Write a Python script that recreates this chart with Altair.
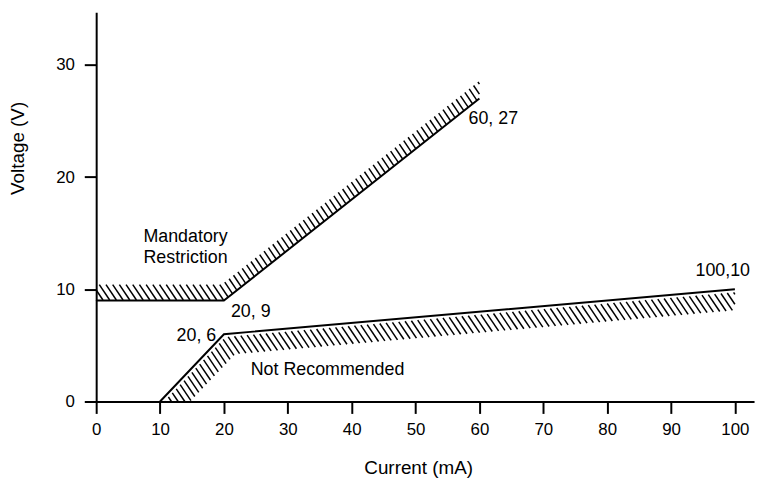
import numpy as np
import pandas as pd
import altair as alt

# ---------------- data ----------------
X_DOMAIN = [0, 103]
Y_DOMAIN = [0, 34.7]
x_ticks = [0, 10, 20, 30, 40, 50, 60, 70, 80, 90, 100]
y_ticks = [0, 10, 20, 30]

upper_x = [0, 20, 60]
upper_y = [9, 9, 27]
lower_x = [10, 20, 100]
lower_y = [0, 6, 10]

point_text = ["20, 9", "20, 6", "60, 27", "100,10"]
point_x = [21.1, 18.8, 58.3, 98.1]
point_y = [8.0, 5.8, 25.2, 11.65]
point_align = ["left", "right", "left", "center"]

note_text = ["Mandatory", "Restriction", "Not Recommended"]
note_x = [7.4, 7.4, 24.2]
note_y = [14.7, 12.75, 2.8]

# ---------------- layout / style ----------------
W, H = 664, 393
FONT = "Liberation Sans, Arial, sans-serif"
sx = W / (X_DOMAIN[1] - X_DOMAIN[0])
sy = H / (Y_DOMAIN[1] - Y_DOMAIN[0])


def to_px(x, y):
    return np.array([(x - X_DOMAIN[0]) * sx, H - (y - Y_DOMAIN[0]) * sy], dtype=float)


def to_data(p):
    return p[0] / sx + X_DOMAIN[0], (H - p[1]) / sy + Y_DOMAIN[0]


def intersect(p, d, q, e):
    A = np.array([[d[0], -e[0]], [d[1], -e[1]]])
    t, _ = np.linalg.solve(A, q - p)
    return p + t * d


def offset_chain(pts, widths, side, start_cut, end_cut):
    lines = []
    for i in range(len(pts) - 1):
        a, b = pts[i], pts[i + 1]
        d = (b - a) / np.linalg.norm(b - a)
        nrm = np.array([-d[1], d[0]]) * side
        lines.append((a + nrm * widths[i], d))
    verts = [intersect(*lines[0], *start_cut)]
    for i in range(1, len(lines)):
        verts.append(intersect(*lines[i - 1], *lines[i]))
    verts.append(intersect(*lines[-1], *end_cut))
    return verts


def hatch(poly, angle_deg=56, step=5.6):
    ang = np.deg2rad(angle_deg)
    d = np.array([np.cos(ang), np.sin(ang)])
    n = np.array([-d[1], d[0]])
    cs = [n @ v for v in poly]
    c0 = np.floor(min(cs) / step) * step
    segs = []
    c = c0
    while c <= max(cs):
        ts = []
        for i in range(len(poly)):
            a, b = poly[i], poly[(i + 1) % len(poly)]
            s, e = n @ a - c, n @ b - c
            if (s > 0) != (e > 0) and s != e:
                pt = a + (b - a) * s / (s - e)
                ts.append((d @ pt, pt))
        ts.sort(key=lambda z: z[0])
        for k in range(0, len(ts) - 1, 2):
            p1, p2 = ts[k][1], ts[k + 1][1]
            x1, y1 = to_data(p1)
            x2, y2 = to_data(p2)
            segs.append({"x": x1, "y": y1, "x2": x2, "y2": y2})
        c += step
    return segs


def band(xs, ys, widths, gap, side, start_kind):
    pts = [to_px(x, y) for x, y in zip(xs, ys)]
    if start_kind == "vertical":
        start_cut = (np.array([pts[0][0], 0.0]), np.array([0.0, 1.0]))
    else:
        start_cut = (np.array([0.0, H]), np.array([1.0, 0.0]))
    end_cut = (np.array([pts[-1][0], 0.0]), np.array([0.0, 1.0]))
    inner = offset_chain(pts, [gap] * len(widths), side, start_cut, end_cut)
    outer = offset_chain(pts, widths, side, start_cut, end_cut)
    return inner + outer[::-1]


hatch_rows = hatch(band(upper_x, upper_y, [16, 14], 0.5, -1, "vertical")) + \
    hatch(band(lower_x, lower_y, [22, 21], 3, 1, "horizontal"))
hatch_df = pd.DataFrame(hatch_rows)

lines_df = pd.DataFrame({
    "x": upper_x + lower_x,
    "y": upper_y + lower_y,
    "series": ["upper"] * len(upper_x) + ["lower"] * len(lower_x),
    "order": list(range(len(upper_x))) + list(range(len(lower_x))),
})
points_df = pd.DataFrame({"x": point_x, "y": point_y, "text": point_text, "align": point_align})
notes_df = pd.DataFrame({"x": note_x, "y": note_y, "text": note_text})

xscale = alt.Scale(domain=X_DOMAIN, nice=False, zero=False)
yscale = alt.Scale(domain=Y_DOMAIN, nice=False, zero=False)

axis_common = dict(
    grid=False, domainColor="black", domainWidth=2, tickColor="black", tickWidth=2,
    tickSize=12, labelFont=FONT, labelFontSize=17, labelColor="black",
    titleFont=FONT, titleFontSize=19, titleFontWeight="normal", titleColor="black",
)
xaxis = alt.Axis(values=x_ticks, title="Current (mA)", labelPadding=8,
                 titleX=325, titleY=73, titleBaseline="alphabetic", titleAlign="center",
                 labelFlush=False, **axis_common)
yaxis = alt.Axis(values=y_ticks, title="Voltage (V)", labelPadding=10,
                 titleX=-79.5, titleY=137, titleAlign="center", titleBaseline="middle",
                 titleAngle=-90, **axis_common)

X = alt.X("x:Q", scale=xscale, axis=xaxis, title="Current (mA)")
Y = alt.Y("y:Q", scale=yscale, axis=yaxis, title="Voltage (V)")

lines = alt.Chart(lines_df).mark_line(color="black", strokeWidth=2).encode(
    x=X, y=Y, detail="series:N", order="order:Q",
)

hatches = alt.Chart(hatch_df).mark_rule(color="black", strokeWidth=1.5).encode(
    x=X, y=Y, x2="x2:Q", y2="y2:Q",
)

layers = [lines, hatches]
for al in ["left", "right", "center"]:
    sub = points_df[points_df["align"] == al]
    layers.append(
        alt.Chart(sub).mark_text(align=al, baseline="middle", font=FONT, fontSize=18, color="black").encode(
            x=X, y=Y, text="text:N",
        )
    )
layers.append(
    alt.Chart(notes_df).mark_text(align="left", baseline="middle", font=FONT, fontSize=18, color="black").encode(
        x=X, y=Y, text="text:N",
    )
)

chart = alt.layer(*layers).properties(
    width=W, height=H,
    autosize=alt.AutoSizeParams(type="none"),
    padding={"left": 89, "top": 2, "right": 5, "bottom": 75},
    background="white",
).configure_view(stroke=None)

chart.save("out.html", embed_options={"renderer": "svg", "actions": False})
